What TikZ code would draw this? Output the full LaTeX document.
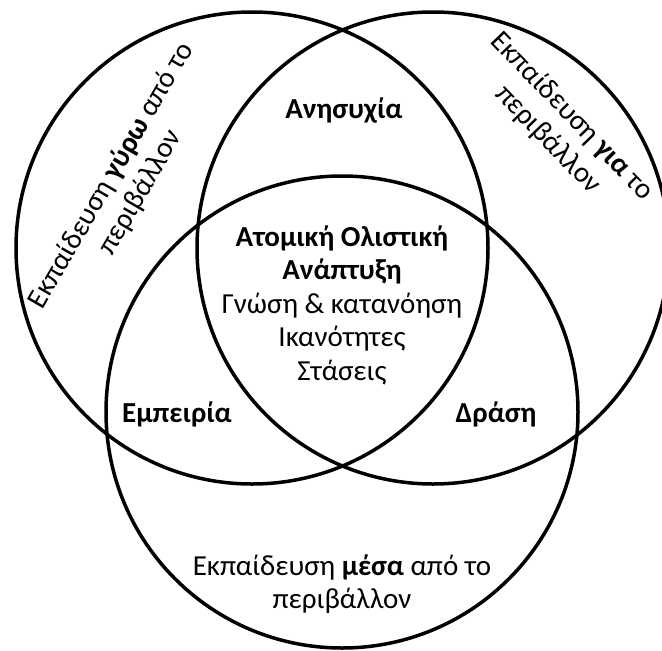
\documentclass[tikz,border=0pt]{standalone}
\usepackage{fontspec}
\setmainfont{Carlito}
\usetikzlibrary{positioning}

\begin{document}
\begin{tikzpicture}[
                x=1pt, y=-1pt,
                ring/.style={draw, circle, line width=3.5pt, minimum size=472pt, inner sep=0pt},
                txt/.style={align=center, font=\fontsize{29}{33.5}\selectfont, inner sep=0pt},
                boldtxt/.style={txt, font=\fontsize{29}{33.5}\selectfont\bfseries},
            ]
            \useasboundingbox (0,0) rectangle (662,651);

            % ----- The three circles -----
            \node[ring] (around) at (252,248) {};
            \node[ring] (for)    at (433,248) {};
            \node[ring] (within) at (342,412) {};

            % ----- Outer labels -----
            \node[txt, rotate=60]  (aroundlbl) at (126,184) {Εκπαίδευση \textbf{γύρω} από το\\περιβάλλον};
            \node[txt, rotate=-46] (forlbl)    at (560,128) {Εκπαίδευση \textbf{για} το\\περιβάλλον};
            \node[txt] (withinlbl) at (342,584) {Εκπαίδευση \textbf{μέσα} από το\\περιβάλλον};

            % ----- Overlaps -----
            \node[boldtxt] (worry) at (344,111) {Ανησυχία};
            \node[boldtxt] (exper) at (177,414) {Εμπειρία};
            \node[boldtxt] (action) at (496,414) {Δράση};

            % ----- Centre -----
            \node[txt] (centre) at (342,305) {\textbf{Ατομική Ολιστική}\\\textbf{Ανάπτυξη}\\Γνώση \& κατανόηση\\Ικανότητες\\Στάσεις};
\end{tikzpicture}
\end{document}
